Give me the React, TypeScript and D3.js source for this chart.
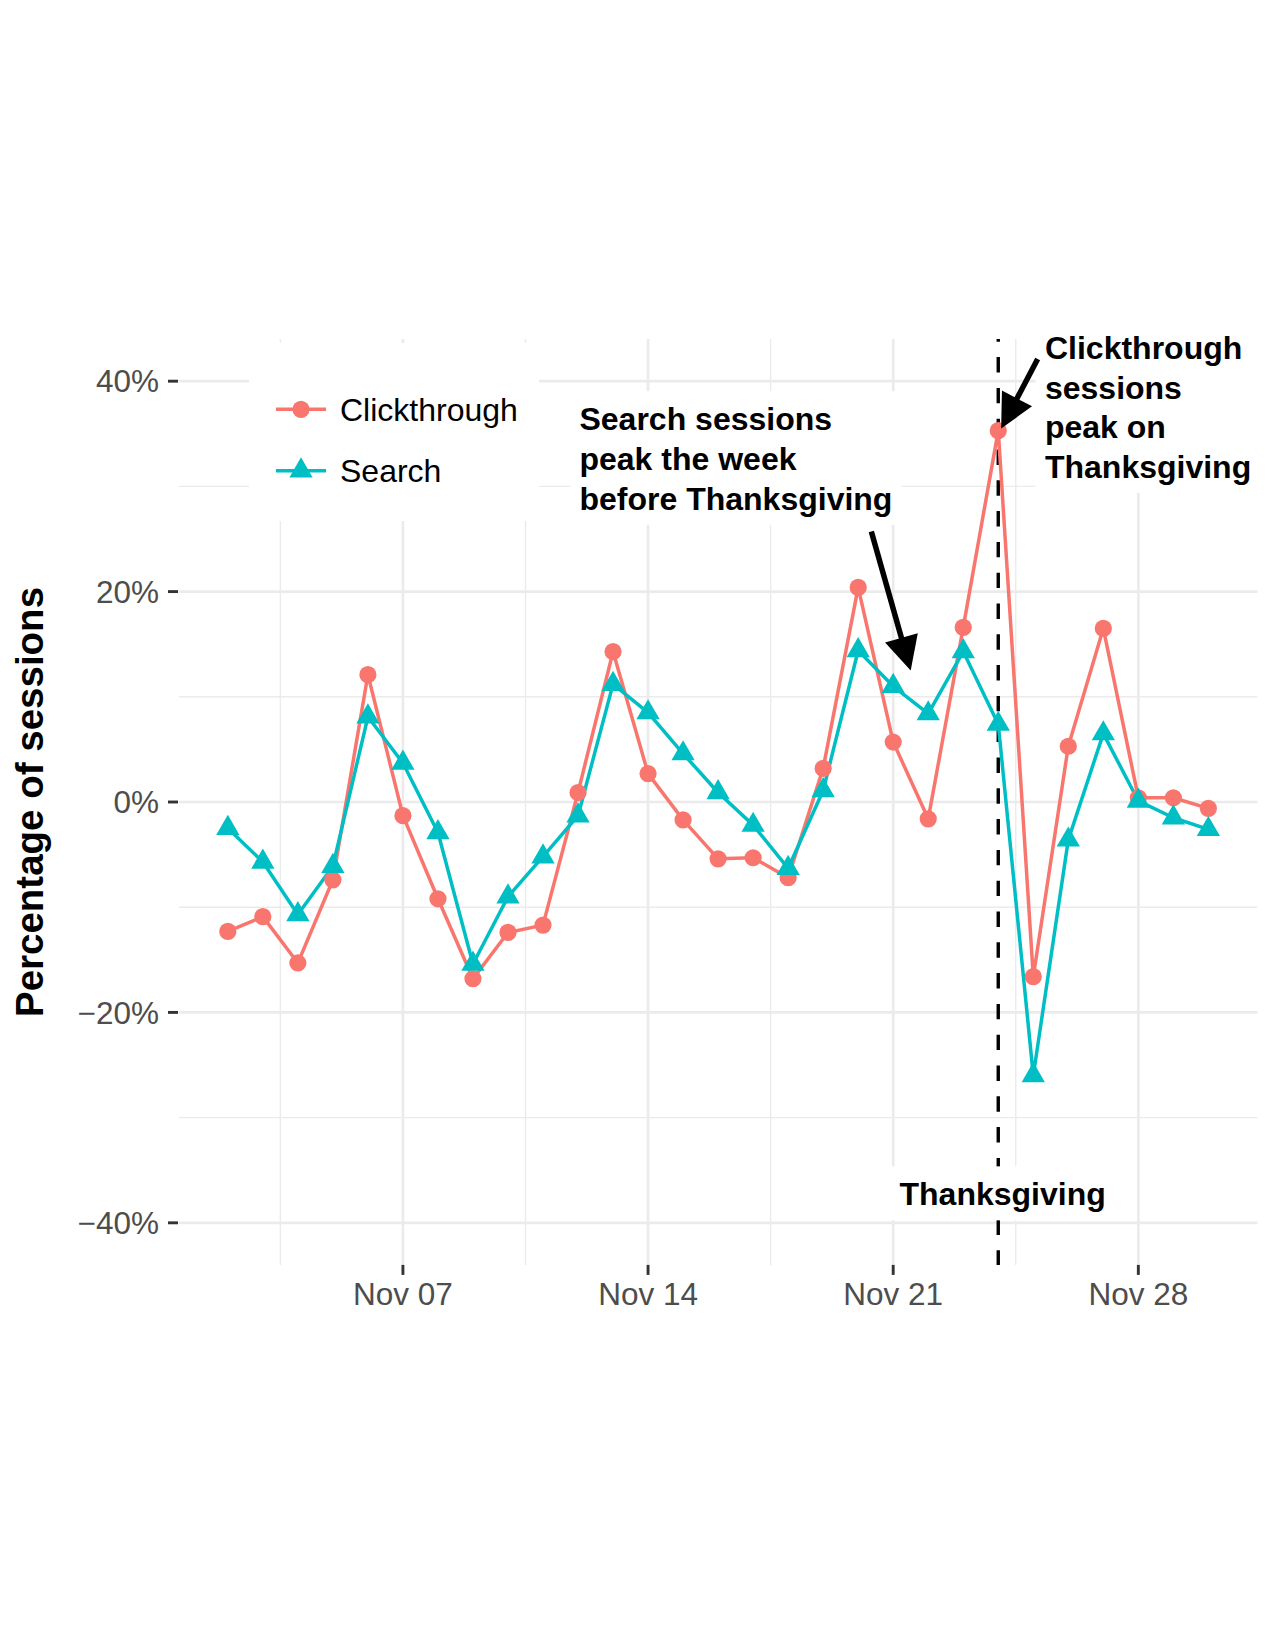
import React, { useMemo } from "react";
import * as d3 from "d3";

// daily share of sessions, Nov 2 – Nov 30 2016 (percent)
const days = [
  "2016-11-02", "2016-11-03", "2016-11-04", "2016-11-05", "2016-11-06", "2016-11-07",
  "2016-11-08", "2016-11-09", "2016-11-10", "2016-11-11", "2016-11-12", "2016-11-13",
  "2016-11-14", "2016-11-15", "2016-11-16", "2016-11-17", "2016-11-18", "2016-11-19",
  "2016-11-20", "2016-11-21", "2016-11-22", "2016-11-23", "2016-11-24", "2016-11-25",
  "2016-11-26", "2016-11-27", "2016-11-28", "2016-11-29", "2016-11-30",
];
const clickthrough = [
  -12.3, -10.9, -15.3, -7.4, 12.1, -1.3, -9.2, -16.8, -12.4, -11.7, 0.9, 14.3,
  2.7, -1.7, -5.4, -5.3, -7.2, 3.2, 20.4, 5.7, -1.6, 16.6, 35.3, -16.6,
  5.3, 16.5, 0.4, 0.4, -0.6,
];
const search = [
  -2.5, -5.7, -10.7, -6.1, 8.1, 3.7, -2.9, -15.4, -9.0, -5.2, -1.3, 11.2,
  8.5, 4.6, 0.9, -2.2, -6.3, 1.1, 14.4, 11.0, 8.4, 14.3, 7.4, -26.0,
  -3.6, 6.5, 0.1, -1.5, -2.6,
];
const seriesNames = ["Clickthrough", "Search"];
const seriesColors = ["#F8766D", "#00BFC4"];

const yBreaks = [-40, -20, 0, 20, 40];
const yMinorBreaks = [-30, -10, 10, 30];
const xBreaks = ["2016-11-07", "2016-11-14", "2016-11-21", "2016-11-28"];
const xBreakLabels = ["Nov 07", "Nov 14", "Nov 21", "Nov 28"];
const xMinorBreaks = ["2016-11-03 12", "2016-11-10 12", "2016-11-17 12", "2016-11-24 12"];
const thanksgiving = "2016-11-24";

// text annotations
const noteLines = [
  ["Search sessions", "peak the week", "before Thanksgiving"],
  ["Clickthrough", "sessions", "peak on", "Thanksgiving"],
  ["Thanksgiving"],
];
const noteAt = ["2016-11-12 01", "2016-11-25 08", "2016-11-24 03"];
const noteValue = [32.7, 37.6, -37.2];
const noteAnchor = ["start", "start", "middle"];

// arrows: from -> to
const arrowFrom = ["2016-11-20 09", "2016-11-25 03"];
const arrowFromValue = [25.7, 42.1];
const arrowTo = ["2016-11-21 12", "2016-11-24 02"];
const arrowToValue = [12.5, 35.5];

const W = 1275;
const H = 1650;
const FONT = "'Liberation Sans', Arial, Helvetica, sans-serif";
const GRID = "#EBEBEB";

const parseDay = d3.timeParse("%Y-%m-%d");
const parseHour = d3.timeParse("%Y-%m-%d %H");

export default function App() {
  const dates = days.map((d) => parseDay(d) as Date);
  const first = dates[0].getTime();
  const last = dates[dates.length - 1].getTime();
  const pad = (last - first) * 0.05;

  const x = d3
    .scaleTime()
    .domain([new Date(first - pad), new Date(last + pad)])
    .range([178.8, 1257.4]);
  const y = d3.scaleLinear().domain([-44, 44]).range([1264.9, 339.1]);
  const [top, bottom] = [y(44), y(-44)];
  const [left, right] = x.range();

  const ctx = useMemo(() => document.createElement("canvas").getContext("2d"), []);
  const textWidth = (t: string, font: string) => {
    if (!ctx) return t.length * 17;
    ctx.font = font;
    return ctx.measureText(t).width;
  };

  const line = d3
    .line<number>()
    .x((_, i) => x(dates[i]))
    .y((v) => y(v));

  const tri = d3.symbol(d3.symbolTriangle, 235)() as string;
  const dotR = 8.6;

  const marker = (s: number, cx: number, cy: number, key: string) =>
    s === 0 ? (
      <circle key={key} cx={cx} cy={cy} r={dotR} fill={seriesColors[0]} />
    ) : (
      <path key={key} d={tri} transform={`translate(${cx},${cy})`} fill={seriesColors[1]} />
    );

  const tg = x(parseDay(thanksgiving) as Date);
  const noteFont = `bold 32px ${FONT}`;
  const lineStep = 39.7;

  const arrows = arrowFrom.map((f, i) => {
    const x0 = x(parseHour(f) as Date);
    const y0 = y(arrowFromValue[i]);
    const x1 = x(parseHour(arrowTo[i]) as Date);
    const y1 = y(arrowToValue[i]);
    const len = Math.hypot(x1 - x0, y1 - y0);
    const ux = (x1 - x0) / len;
    const uy = (y1 - y0) / len;
    const hl = 34;
    const hw = 17;
    const bx = x1 - ux * hl;
    const by = y1 - uy * hl;
    const head = [
      [x1, y1],
      [bx - uy * hw, by + ux * hw],
      [bx + uy * hw, by - ux * hw],
    ];
    return (
      <g key={`arrow-${i}`}>
        <line x1={x0} y1={y0} x2={bx + ux * 2} y2={by + uy * 2} stroke="#000" strokeWidth={5.5} />
        <polygon points={head.map((p) => p.join(",")).join(" ")} fill="#000" />
      </g>
    );
  });

  return (
    <div style={{ position: "absolute", left: 0, top: 0 }}>
      <svg width={W} height={H} viewBox={`0 0 ${W} ${H}`} style={{ display: "block", background: "#fff" }}>
        {/* grid */}
        {yMinorBreaks.map((v) => (
          <line key={`hy${v}`} x1={left} x2={right} y1={y(v)} y2={y(v)} stroke={GRID} strokeWidth={1.4} />
        ))}
        {xMinorBreaks.map((d) => {
          const px = x(parseHour(d) as Date);
          return <line key={`vx${d}`} x1={px} x2={px} y1={top} y2={bottom} stroke={GRID} strokeWidth={1.4} />;
        })}
        {yBreaks.map((v) => (
          <line key={`y${v}`} x1={left} x2={right} y1={y(v)} y2={y(v)} stroke={GRID} strokeWidth={2.7} />
        ))}
        {xBreaks.map((d) => {
          const px = x(parseDay(d) as Date);
          return <line key={`x${d}`} x1={px} x2={px} y1={top} y2={bottom} stroke={GRID} strokeWidth={2.7} />;
        })}

        {/* axes */}
        {yBreaks.map((v) => (
          <g key={`yt${v}`}>
            <line x1={168} x2={178} y1={y(v)} y2={y(v)} stroke="#333" strokeWidth={2.9} />
            <text x={159} y={y(v) + 11.3} textAnchor="end" fontFamily={FONT} fontSize={31.5} fill="#4D4D4D">
              {v < 0 ? `\u2212${Math.abs(v)}%` : `${v}%`}
            </text>
          </g>
        ))}
        {xBreaks.map((d, i) => {
          const px = x(parseDay(d) as Date);
          return (
            <g key={`xt${d}`}>
              <line x1={px} x2={px} y1={bottom} y2={bottom + 10} stroke="#333" strokeWidth={2.9} />
              <text x={px} y={1305} textAnchor="middle" fontFamily={FONT} fontSize={31.5} fill="#4D4D4D">
                {xBreakLabels[i]}
              </text>
            </g>
          );
        })}
        <text
          transform={`translate(43,${(top + bottom) / 2}) rotate(-90)`}
          textAnchor="middle"
          fontFamily={FONT}
          fontWeight="bold"
          fontSize={38.5}
          fill="#000"
        >
          Percentage of sessions
        </text>

        {/* Thanksgiving marker */}
        <line
          x1={tg}
          x2={tg}
          y1={top}
          y2={bottom}
          stroke="#000"
          strokeWidth={3.4}
          strokeDasharray="15.4 15.4"
          strokeDashoffset={12.8}
        />

        {/* series */}
        {[clickthrough, search].map((vals, s) => (
          <path key={`l${s}`} d={line(vals) as string} fill="none" stroke={seriesColors[s]} strokeWidth={3.5} strokeLinejoin="round" />
        ))}
        {[clickthrough, search].map((vals, s) =>
          vals.map((v, i) => marker(s, x(dates[i]), y(v), `m${s}-${i}`))
        )}

        {/* labels */}
        {noteLines.map((lines, i) => {
          const px = x(parseHour(noteAt[i]) as Date);
          const cy = y(noteValue[i]);
          const w = Math.max(...lines.map((t) => textWidth(t, noteFont)));
          const h = (lines.length - 1) * lineStep + 54;
          const padX = 9.5;
          const bx = noteAnchor[i] === "start" ? px - padX : px - w / 2 - padX;
          const firstBase = cy - ((lines.length - 1) / 2) * lineStep + 12.1;
          return (
            <g key={`note${i}`}>
              <rect x={bx} y={cy - h / 2} width={w + 2 * padX} height={h} fill="#fff" />
              <text
                fontFamily={FONT}
                fontWeight="bold"
                fontSize={32}
                fill="#000"
                textAnchor={noteAnchor[i]}
              >
                {lines.map((t, j) => (
                  <tspan key={j} x={px} y={firstBase + j * lineStep}>
                    {t}
                  </tspan>
                ))}
              </text>
            </g>
          );
        })}
        {arrows}

        {/* legend */}
        <rect x={249} y={343} width={290} height={178} fill="#fff" />
        {seriesNames.map((name, s) => {
          const ky = [409.3, 470.7][s];
          return (
            <g key={`lg${s}`}>
              <line x1={276} x2={326} y1={ky} y2={ky} stroke={seriesColors[s]} strokeWidth={3.5} />
              {marker(s, 301, ky, `lgm${s}`)}
              <text x={340} y={ky + 11.5} fontFamily={FONT} fontSize={32} fill="#000">
                {name}
              </text>
            </g>
          );
        })}
      </svg>
    </div>
  );
}
